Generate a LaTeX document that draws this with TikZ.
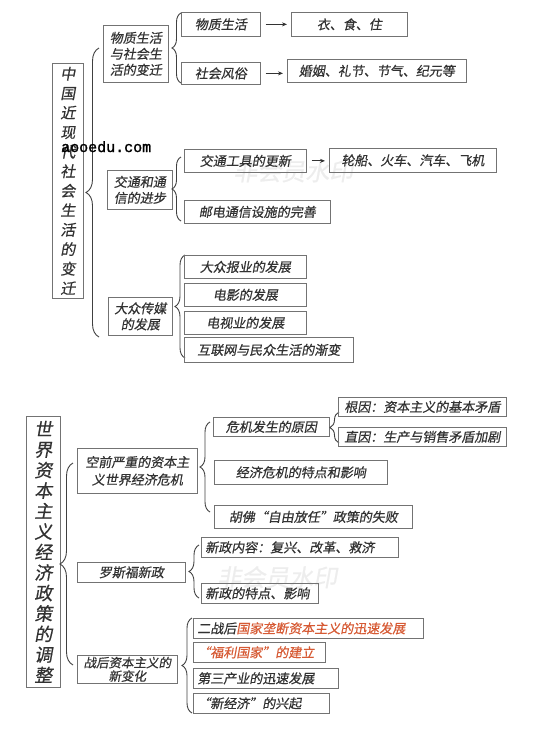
\documentclass[tikz,border=0pt]{standalone}
\usepackage{fontspec}
\newfontfamily\cjk[FakeSlant=0.18,FakeBold=0.6]{Noto Sans CJK SC}
\newfontfamily\webfont[FakeBold=1.5]{Liberation Mono}
\usetikzlibrary{arrows.meta,decorations.pathreplacing}
\definecolor{ink}{RGB}{50,50,50}
\definecolor{hl}{RGB}{214,90,52}
\tikzset{
  topic/.style = {draw=black!55, line width=0.7pt, inner sep=0pt, anchor=north west,
    align=center, text=ink, font=\cjk\fontsize{13}{16}\selectfont},
  leftbox/.style = {topic, align=left, inner xsep=4pt},
  sz/.style 2 args = {minimum width=#1pt, minimum height=#2pt},
  bigtitle/.style = {topic, font=\cjk\fontsize{15}{19.5}\selectfont},
  bracel/.style = {draw=black!75, line width=0.9pt, decorate, decoration={brace, amplitude=#1}},
  bracel/.default = 9pt,
  linkarrow/.style = {-{Stealth[length=5pt,width=4pt]}, line width=0.9pt, black!80,
    shorten <=5pt, shorten >=4pt},
  wmark/.style = {anchor=north west, inner sep=0pt, text=black!7, font=\cjk\fontsize{24}{24}\selectfont},
}

\begin{document}
\begin{tikzpicture}[x=1pt, y=-1pt]
\useasboundingbox (0,0) rectangle (541,734);

% faint watermarks
\node[wmark] (wm1) at (233,160) {非会员水印};
\node[wmark] (wm2) at (217,566) {非会员水印};

% part 1: social life
\node[bigtitle, sz={31}{235}] (t0) at (52,63)
  {中\\国\\近\\现\\代\\社\\会\\生\\活\\的\\变\\迁};
\draw[bracel=13pt] (99,337) -- (99,48);

% material life and customs
\node[topic, sz={65}{57}] (t1) at (103,25) {物质生活\\与社会生\\活的变迁};
\draw[bracel] (181,83) -- (181,13);
\node[topic, sz={79}{24}] (t11) at (181,12) {物质生活};
\node[topic, sz={116}{24}] (t111) at (291,12) {衣、食、住};
\node[topic, sz={79}{22}] (t12) at (181,62) {社会风俗};
\node[topic, sz={179}{23}] (t121) at (287,59) {婚姻、礼节、节气、纪元等};
\draw[linkarrow] (t11.east) -- (t11.east -| t111.west);
\draw[linkarrow] (t12.east) -- (t12.east -| t121.west);

% transport and post
\node[topic, sz={65}{39}] (t2) at (107,170) {交通和通\\信的进步};
\draw[bracel] (181,221) -- (181,157);
\node[topic, sz={122}{23}] (t21) at (184,149) {交通工具的更新};
\node[topic, sz={167}{24}] (t211) at (329,148) {轮船、火车、汽车、飞机};
\node[topic, sz={146}{23}] (t22) at (184,200) {邮电通信设施的完善};
\draw[linkarrow] (t21.east) -- (t21.east -| t211.west);

% mass media
\node[topic, sz={64}{38}] (t3) at (108,297) {大众传媒\\的发展};
\draw[bracel=10pt] (185,358) -- (185,255);
\node[topic, sz={122}{23}] (t31) at (184,255) {大众报业的发展};
\node[topic, sz={122}{23}] (t32) at (184,283) {电影的发展};
\node[topic, sz={122}{23}] (t33) at (184,311) {电视业的发展};
\node[topic, sz={169}{25}] (t34) at (184,337) {互联网与民众生活的渐变};

% part 2: capitalist economic policy
\node[bigtitle, sz={34}{271}, font=\cjk\fontsize{18}{20.5}\selectfont] (b0) at (26,416)
  {世\\界\\资\\本\\主\\义\\经\\济\\政\\策\\的\\调\\整};
\draw[bracel=13pt] (73,665) -- (73,463);

% the great crisis
\node[topic, sz={120}{45}, font=\cjk\fontsize{13}{17.5}\selectfont] (b1) at (77,448)
  {空前严重的资本主\\义世界经济危机};
\draw[bracel=10pt] (210,512) -- (210,422);
\node[topic, sz={116}{19}] (b11) at (213,417) {危机发生的原因};
\draw[bracel] (339,443) -- (339,412);
\node[topic, sz={168}{19}] (b111) at (338,397) {根因：资本主义的基本矛盾};
\node[topic, sz={168}{19}] (b112) at (338,427) {直因：生产与销售矛盾加剧};
\node[topic, sz={173}{24}] (b12) at (214,460) {经济危机的特点和影响};
\node[topic, sz={198}{23}] (b13) at (214,505) {胡佛“自由放任”政策的失败};

% new deal
\node[topic, sz={108}{20}] (b2) at (77,562) {罗斯福新政};
\draw[bracel=10pt] (199,598) -- (199,545);
\node[leftbox, text width=189pt, minimum height=20pt] (b21) at (201,537) {新政内容：复兴、改革、救济};
\node[leftbox, text width=109pt, minimum height=20pt] (b22) at (201,583) {新政的特点、影响};

% post-war changes
\node[topic, sz={100}{28}, font=\cjk\fontsize{12.5}{13.5}\selectfont] (b3) at (77,655)
  {战后资本主义的\\新变化};
\draw[bracel=10pt] (192,713) -- (192,618);
\node[leftbox, text width=222pt, minimum height=20pt] (b31) at (193,618)
  {二战后{\color{hl}国家垄断资本主义的迅速发展}};
\node[leftbox, text width=124pt, minimum height=20pt, text=hl] (b32) at (193,642) {“福利国家”的建立};
\node[leftbox, text width=137pt, minimum height=20pt] (b33) at (193,668) {第三产业的迅速发展};
\node[leftbox, text width=128pt, minimum height=20pt] (b34) at (193,693) {“新经济”的兴起};

% site stamp
\node[anchor=base west, inner sep=0pt, font=\webfont\fontsize{15}{15}\selectfont] (site) at (61,152) {aooedu.com};

\end{tikzpicture}
\end{document}
